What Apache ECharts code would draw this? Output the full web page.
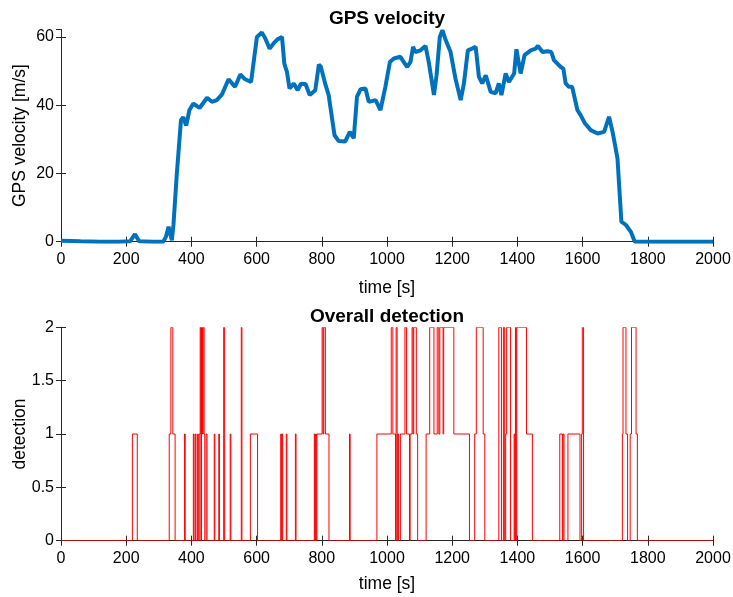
<!DOCTYPE html>
<html>
<head>
<meta charset="utf-8">
<script src="https://cdn.jsdelivr.net/npm/echarts@6/dist/echarts.min.js"></script>
<style>html,body{margin:0;padding:0;background:#fff}#c{width:733px;height:597px}</style>
</head>
<body>
<div id="c"></div>
<script>
// GPS velocity trace: time [s] and velocity [m/s]
const velT = [0,5,60,120,180,212,227,240,280,314,322,330,340,345,355,368,375,384,394,406,425,448,463,478,494,514,534,550,565,583,591,601,616,626,640,652,664,678,685,693,701,714,726,736,750,763,780,791,797,811,821,839,852,872,886,898,908,919,934,944,965,980,995,1009,1021,1041,1051,1062,1072,1080,1087,1103,1118,1128,1144,1152,1162,1170,1180,1195,1210,1226,1236,1248,1261,1272,1282,1292,1303,1318,1333,1343,1351,1364,1374,1390,1397,1410,1422,1441,1456,1463,1477,1492,1504,1512,1533,1541,1548,1558,1568,1584,1594,1607,1625,1646,1666,1681,1692,1707,1719,1733,1748,1760,1800,1850,1855,1900,1945,1950,2000];
const velV = [0.3,0.2,0.1,0,0,0.1,2.2,0.1,0,0,1.5,4.4,0.4,5,19.5,35.6,36.5,34,38.6,40.5,39.2,42.2,41,41.5,43.2,47.6,45.4,49,47.6,46.8,52.7,60,61.3,59.7,56.6,58.1,59.3,60,52.2,49.8,44.9,46.4,44.4,46.3,46.2,43,44.4,51.9,51.3,46.1,43,31.2,29.5,29.4,32.2,30.3,42.5,44.7,44.9,41,41.5,38.6,45.4,52.7,53.7,54.2,52.7,51.2,52.7,57.1,55.6,56.1,57.4,52.7,43,48.8,60,62,59.1,55.6,47.8,41.5,46.4,56.1,56.6,57.1,48.3,46.4,48.8,43.9,43.5,46.4,43,49.3,46.8,49.3,56.4,49.3,54.7,56.1,56.6,57.4,55.6,55.8,55.6,53.2,51.2,50.7,46.4,45.4,45.4,38.6,37.1,34.7,32.7,31.7,32.2,36.6,32.2,24.4,5.9,4.9,2.9,0,0,0,0.4,0,0,0.4,0];

// Overall detection: change times [s] and the level held from each time on
const detT = [0,219,234,332,337,343,350,379,381,406,408,412,414,419,421,424,427,429,431,434,436,439,441,445,448,470,472,484,486,499,502,519,521,553,555,581,603,674,676,678,680,691,693,719,721,777,779,781,783,785,801,804,806,811,822,885,887,969,1013,1018,1026,1028,1031,1033,1035,1041,1055,1060,1069,1071,1077,1080,1082,1090,1094,1120,1131,1144,1154,1159,1162,1172,1174,1205,1253,1269,1274,1295,1300,1343,1351,1357,1361,1364,1367,1379,1390,1392,1394,1396,1398,1428,1446,1530,1538,1540,1543,1555,1592,1597,1599,1603,1722,1724,1733,1738,1746,1750,1764,1768,2000];
const detV = [0,1,0,1,2,1,0,1,0,1,0,1,0,1,0,1,2,0,2,1,2,1,0,1,0,1,0,1,0,2,0,1,0,2,0,1,0,1,0,1,0,1,0,1,0,1,0,1,0,1,2,1,2,1,0,1,0,1,2,1,0,2,0,1,0,1,2,1,0,1,2,1,2,1,0,1,2,1,2,1,2,1,2,1,0,1,2,1,0,2,0,2,0,1,2,0,1,0,2,0,2,1,0,1,0,1,0,1,0,1,2,0,1,2,1,0,1,2,1,0,0];

const xTicks = [0,200,400,600,800,1000,1200,1400,1600,1800,2000];
const velTicks = [0,20,40,60];
const detTicks = [0,0.5,1,1.5,2];

// one stair step per item: [t_i, t_next, level_i, level_next]
const detSteps = [];
for (let i = 0; i < detT.length - 1; i++) detSteps.push([detT[i], detT[i+1], detV[i], detV[i+1]]);

const FONT = 'Liberation Sans, Arial, Helvetica, sans-serif';
const AX = '#262626';
const TICK_FS = 16, LABEL_FS = 17.5, TITLE_FS = 19;
const grid1 = {left:61, right:20, top:29.5, height:212.2, containLabel:false, outerBoundsMode:'none'};
const grid2 = {left:61, right:20, top:327.3, height:213.4, containLabel:false, outerBoundsMode:'none'};
const plain = v => String(v);

function xAxes(gi, gap) {
  return [{
    type:'value', gridIndex:gi, min:xTicks[0], max:xTicks[xTicks.length-1], interval:xTicks[1]-xTicks[0],
    name:'time [s]', nameLocation:'middle', nameGap:gap, nameMoveOverlap:false,
    nameTextStyle:{fontFamily:FONT, fontSize:LABEL_FS, color:'#000'},
    axisLine:{show:true, lineStyle:{color:AX, width:1}},
    axisTick:{show:true, inside:true, length:5, lineStyle:{color:AX}},
    axisLabel:{fontFamily:FONT, fontSize:TICK_FS, color:'#000', margin:10, formatter:plain},
    splitLine:{show:false}
  },{
    type:'value', gridIndex:gi, position:'top', min:xTicks[0], max:xTicks[xTicks.length-1], interval:xTicks[1]-xTicks[0],
    axisLine:{show:true, lineStyle:{color:AX, width:1}},
    axisTick:{show:true, inside:true, length:5, lineStyle:{color:AX}},
    axisLabel:{show:false}, splitLine:{show:false}
  }];
}
function yAxes(gi, ticks, max, name, gap) {
  const iv = ticks[1]-ticks[0];
  return [{
    type:'value', gridIndex:gi, min:ticks[0], max:max, interval:iv,
    name:name, nameLocation:'middle', nameGap:gap, nameMoveOverlap:false,
    nameTextStyle:{fontFamily:FONT, fontSize:LABEL_FS, color:'#000'},
    axisLine:{show:true, lineStyle:{color:AX, width:1}},
    axisTick:{show:true, inside:true, length:5, lineStyle:{color:AX}},
    axisLabel:{fontFamily:FONT, fontSize:TICK_FS, color:'#000', margin:7, formatter:plain,
               showMaxLabel: max===ticks[ticks.length-1]},
    splitLine:{show:false}
  },{
    type:'value', gridIndex:gi, position:'right', min:ticks[0], max:max, interval:iv,
    axisLine:{show:true, lineStyle:{color:AX, width:1}},
    axisTick:{show:true, inside:true, length:5, lineStyle:{color:AX}},
    axisLabel:{show:false}, splitLine:{show:false}
  }];
}

const chart = echarts.init(document.getElementById('c'), null, {renderer:'canvas'});
chart.setOption({
  animation:false,
  backgroundColor:'#fff',
  title:[
    {text:'GPS velocity', left:382, textAlign:'center', top:4, textStyle:{fontFamily:FONT, fontSize:TITLE_FS, fontWeight:'bold', color:'#000'}},
    {text:'Overall detection', left:382, textAlign:'center', top:302, textStyle:{fontFamily:FONT, fontSize:TITLE_FS, fontWeight:'bold', color:'#000'}}
  ],
  grid:[grid1, grid2],
  xAxis:[...xAxes(0, 37), ...xAxes(1, 34)],
  yAxis:[...yAxes(0, velTicks, 62.2, 'GPS velocity [m/s]', 32), ...yAxes(1, detTicks, 2, 'detection', 32)],
  series:[
    {type:'line', xAxisIndex:0, yAxisIndex:0, showSymbol:false, clip:true,
     data: velT.map((t,i)=>[t, velV[i]]),
     lineStyle:{color:'#0072BD', width:4}, itemStyle:{color:'#0072BD'}},
    {type:'custom', xAxisIndex:2, yAxisIndex:2, clip:true,
     data: detSteps,
     encode:{x:[0,1], y:[2,3]},
     renderItem: function(params, api) {
       const a = api.coord([api.value(0), api.value(2)]);
       const b = api.coord([api.value(1), api.value(2)]);
       const c = api.coord([api.value(1), api.value(3)]);
       return {type:'polyline', shape:{points:[a,b,c]},
               style:{stroke:'#FF0000', lineWidth:1, fill:null}};
     }}
  ]
});
</script>
</body>
</html>
